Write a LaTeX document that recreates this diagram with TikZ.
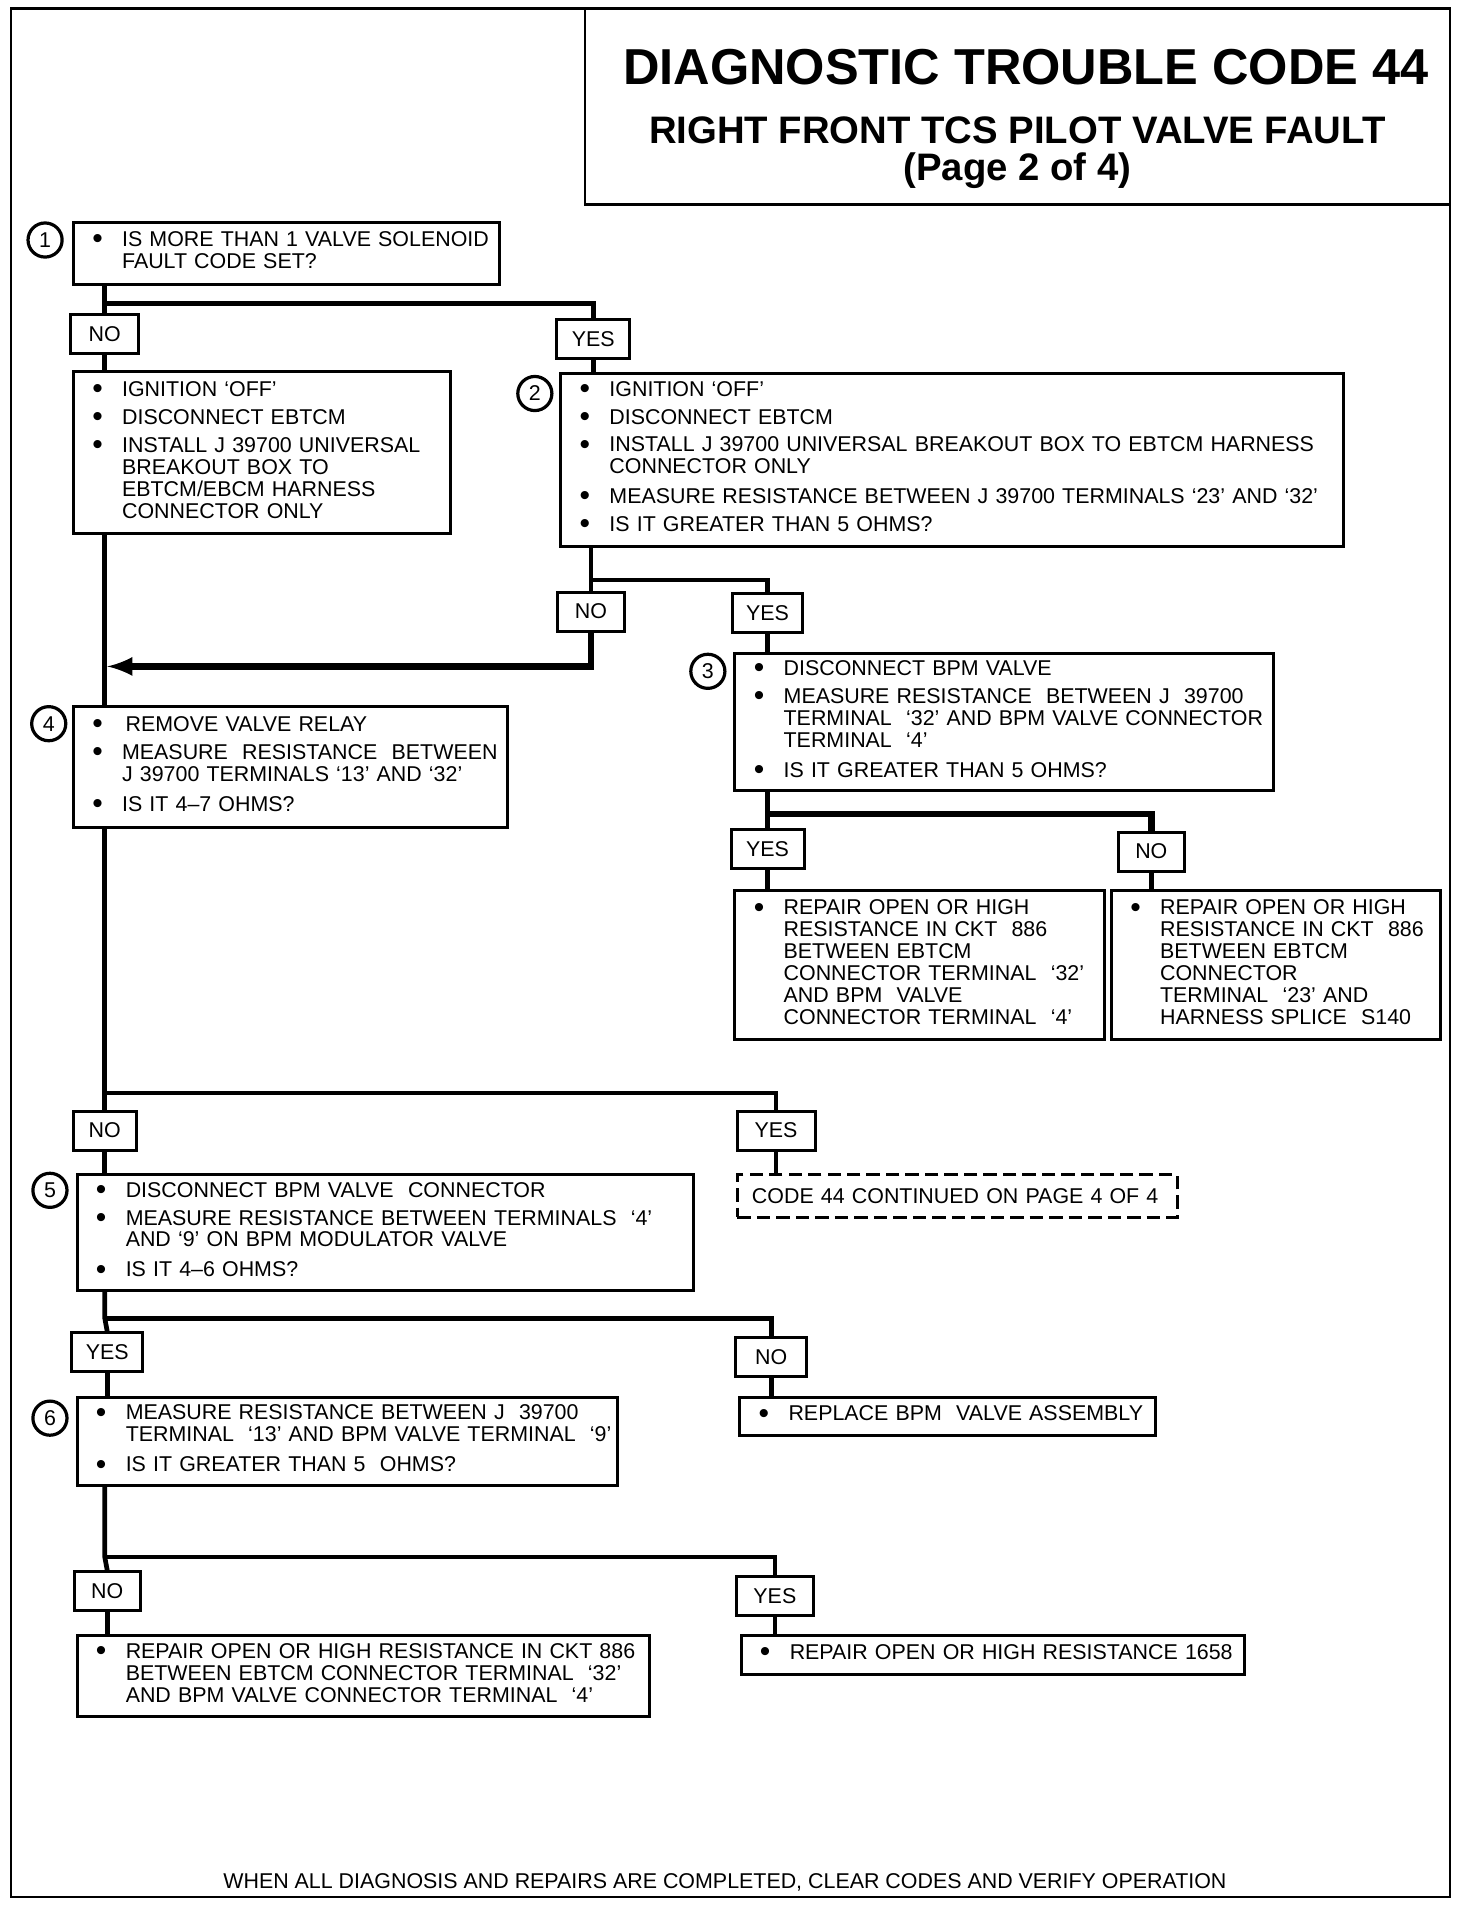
\documentclass[tikz,border=0pt]{standalone}
\usepackage{fontspec}
\setmainfont{Liberation Sans}
\usetikzlibrary{arrows}

% one bullet line of a step box
\newcommand\itm[1]{\noindent\makebox[0.8cm][l]{\hspace{0.31cm}\raisebox{-1pt}{\fontsize{14}{10}\selectfont\textbullet}}\begin{tabular}[t]{@{}l@{}}#1\end{tabular}\par}
\newcommand\gap{\vspace{0.1cm}}

\begin{document}
\begin{tikzpicture}[
  x=0.02cm, y=-0.02cm,
  stepbox/.style={draw, line width=1.4pt, anchor=north west, inner xsep=0pt, inner ysep=2pt, font=\fontsize{10}{10.2}\selectfont},
  yesno/.style={draw, line width=1.4pt, minimum height=0.64cm, inner sep=0pt, font=\fontsize{10}{12}\selectfont},
  stepnum/.style={draw, circle, line width=1.5pt, minimum size=0.56cm, inner sep=0pt, font=\fontsize{10}{12}\selectfont},
  conn/.style={line width=2.2pt},
  heavy/.style={line width=3pt},
]
\useasboundingbox (0,0) rectangle (1208,1571);
% frame and title
\draw[line width=1.2pt] (9,7) rectangle (1190,1557);
\draw[line width=1.2pt] (480,7) rectangle (1190,168);
\node[font=\fontsize{23.6}{28}\selectfont\bfseries] (t1) at (842,55) {DIAGNOSTIC TROUBLE CODE 44};
\node[font=\fontsize{17.9}{21}\selectfont\bfseries] (t2) at (835,107) {RIGHT FRONT TCS PILOT VALVE FAULT};
\node[font=\fontsize{17.9}{21}\selectfont\bfseries] (t3) at (835,140) {(Page 2 of 4)};

% step 1
\node[stepnum] (c1) at (37,197) {1};
\node[stepbox, text width=7cm, minimum height=1.02cm] (b1) at (59,181)
  {\itm{IS MORE THAN 1 VALVE SOLENOID\\FAULT CODE SET?}};
\node[yesno, minimum width=1.12cm] (lno1) at (86,274) {NO};
\node[yesno, minimum width=1.2cm] (lyes1) at (487,278) {YES};
\node[stepbox, text width=6.2cm, minimum height=2.66cm] (bn1) at (59,304)
  {\itm{IGNITION `OFF'}\gap\itm{DISCONNECT EBTCM}\gap
   \itm{INSTALL J 39700 UNIVERSAL\\BREAKOUT BOX TO\\EBTCM/EBCM HARNESS\\CONNECTOR ONLY}};

% step 2
\node[stepnum] (c2) at (439,323) {2};
\node[stepbox, text width=12.86cm, minimum height=2.84cm] (b2) at (459,305)
  {\itm{IGNITION `OFF'}\gap\itm{DISCONNECT EBTCM}\gap
   \itm{INSTALL J 39700 UNIVERSAL BREAKOUT BOX TO EBTCM HARNESS\\CONNECTOR ONLY}\gap
   \itm{MEASURE RESISTANCE BETWEEN J 39700 TERMINALS `23' AND `32'}\gap
   \itm{IS IT GREATER THAN 5 OHMS?}};
\node[yesno, minimum width=1.1cm] (lno2) at (485,502) {NO};
\node[yesno, minimum width=1.16cm] (lyes2) at (630,503) {YES};

% step 3
\node[stepnum] (c3) at (581,551) {3};
\node[stepbox, text width=8.84cm, minimum height=2.26cm] (b3) at (602,535)
  {\itm{DISCONNECT BPM VALVE}\gap
   \itm{MEASURE RESISTANCE~ BETWEEN J~ 39700\\TERMINAL~ `32' AND BPM VALVE CONNECTOR\\TERMINAL~ `4'}\gap
   \itm{IS IT GREATER THAN 5 OHMS?}};
\node[yesno, minimum width=1.2cm] (lyes3) at (630,697) {YES};
\node[yesno, minimum width=1.08cm] (lno3) at (945,699) {NO};
\node[stepbox, text width=6.06cm, minimum height=2.44cm] (b3y) at (602,730)
  {\itm{REPAIR OPEN OR HIGH\\RESISTANCE IN CKT~ 886\\BETWEEN EBTCM\\CONNECTOR TERMINAL~ `32'\\AND BPM~ VALVE\\CONNECTOR TERMINAL~ `4'}};
\node[stepbox, text width=5.4cm, minimum height=2.44cm] (b3n) at (911,730)
  {\itm{REPAIR OPEN OR HIGH\\RESISTANCE IN CKT~ 886\\BETWEEN EBTCM\\CONNECTOR\\TERMINAL~ `23' AND\\HARNESS SPLICE~ S140}};

% step 4
\node[stepnum] (c4) at (40,594) {4};
\node[stepbox, text width=7.12cm, minimum height=1.98cm] (b4) at (59,579)
  {\itm{\,REMOVE VALVE RELAY}\gap
   \itm{MEASURE~ RESISTANCE~ BETWEEN\\J 39700 TERMINALS `13' AND `32'}\gap
   \itm{IS IT 4--7 OHMS?}};
\node[yesno, minimum width=1.04cm] (lno4) at (86,928) {NO};
\node[yesno, minimum width=1.28cm] (lyes4) at (637,928) {YES};

% step 5
\node[stepnum] (c5) at (41,977) {5};
\node[stepbox, text width=10.12cm, minimum height=1.9cm] (b5) at (62,963)
  {\itm{DISCONNECT BPM VALVE~ CONNECTOR}\gap
   \itm{MEASURE RESISTANCE BETWEEN TERMINALS~ `4'\\AND `9' ON BPM MODULATOR VALVE}\gap
   \itm{IS IT 4--6 OHMS?}};
\node[stepbox, dashed, dash pattern=on 0.22cm off 0.1cm, text width=7.22cm, minimum height=0.7cm] (bc) at (604,963)
  {\hspace*{0.24cm}CODE 44 CONTINUED ON PAGE 4 OF 4};
\node[yesno, minimum width=1.16cm] (lyes5) at (88,1110) {YES};
\node[yesno, minimum width=1.16cm] (lno5) at (633,1114) {NO};

% step 6
\node[stepnum] (c6) at (41,1164) {6};
\node[stepbox, text width=8.88cm, minimum height=1.44cm] (b6) at (62,1146)
  {\itm{MEASURE RESISTANCE BETWEEN J~ 39700\\TERMINAL~ `13' AND BPM VALVE TERMINAL~ `9'}\gap
   \itm{IS IT GREATER THAN 5~ OHMS?}};
\node[stepbox, text width=6.82cm, minimum height=0.62cm] (brep) at (606,1146)
  {\itm{REPLACE BPM~ VALVE ASSEMBLY}};
\node[yesno, minimum width=1.08cm] (lno6) at (88,1306) {NO};
\node[yesno, minimum width=1.26cm] (lyes6) at (636,1310) {YES};
\node[stepbox, text width=9.4cm, minimum height=1.34cm] (b6n) at (62,1341)
  {\itm{REPAIR OPEN OR HIGH RESISTANCE IN CKT 886\\BETWEEN EBTCM CONNECTOR TERMINAL~ `32'\\AND BPM VALVE CONNECTOR TERMINAL~ `4'}};
\node[stepbox, text width=8.26cm, minimum height=0.64cm] (b6y) at (607,1341)
  {\itm{REPAIR OPEN OR HIGH RESISTANCE 1658}};

\node[font=\fontsize{10}{12}\selectfont] (foot) at (595,1545)
  {WHEN ALL DIAGNOSIS AND REPAIRS ARE COMPLETED, CLEAR CODES AND VERIFY OPERATION};

% junctions
\coordinate (j1) at (86,249);
\coordinate (j2) at (485,476);
\coordinate (j3) at (630,668);
\coordinate (j4) at (86,897);
\coordinate (j5) at (86,1082);
\coordinate (j6) at (86,1278);
\coordinate (a1) at (88,547);

\draw[conn] (j1 |- b1.south) -- (j1) -- (lno1.north);
\draw[conn] (j1) -| (lyes1.north);
\draw[conn] (lno1.south) -- (lno1.south |- bn1.north);
\draw[conn] (lyes1.south) -- (lyes1.south |- b2.north);
\draw[conn] (j4 |- bn1.south) -- (j4 |- b4.north);
\draw[conn] (j2 |- b2.south) -- (j2) -- (lno2.north);
\draw[conn] (j2) -| (lyes2.north);
\draw[heavy,-latex] (lno2.south) |- (a1);
\draw[conn] (lyes2.south) -- (lyes2.south |- b3.north);
\draw[conn] (j3 |- b3.south) -- (j3) -- (lyes3.north);
\draw[heavy] (j3) -| (lno3.north);
\draw[conn] (lyes3.south) -- (lyes3.south |- b3y.north);
\draw[conn] (lno3.south) -- (lno3.south |- b3n.north);
\draw[conn] (j4 |- b4.south) -- (j4) -- (lno4.north);
\draw[conn] (j4) -| (lyes4.north);
\draw[conn] (lno4.south) -- (lno4.south |- b5.north);
\draw[conn] (lyes4.south) -- (lyes4.south |- bc.north);
\draw[conn] (j5 |- b5.south) -- (j5) -- (lyes5.north);
\draw[conn] (j5) -| (lno5.north);
\draw[conn] (lyes5.south) -- (lyes5.south |- b6.north);
\draw[conn] (lno5.south) -- (lno5.south |- brep.north);
\draw[conn] (j6 |- b6.south) -- (j6) -- (lno6.north);
\draw[conn] (j6) -| (lyes6.north);
\draw[conn] (lno6.south) -- (lno6.south |- b6n.north);
\draw[conn] (lyes6.south) -- (lyes6.south |- b6y.north);
\end{tikzpicture}
\end{document}
